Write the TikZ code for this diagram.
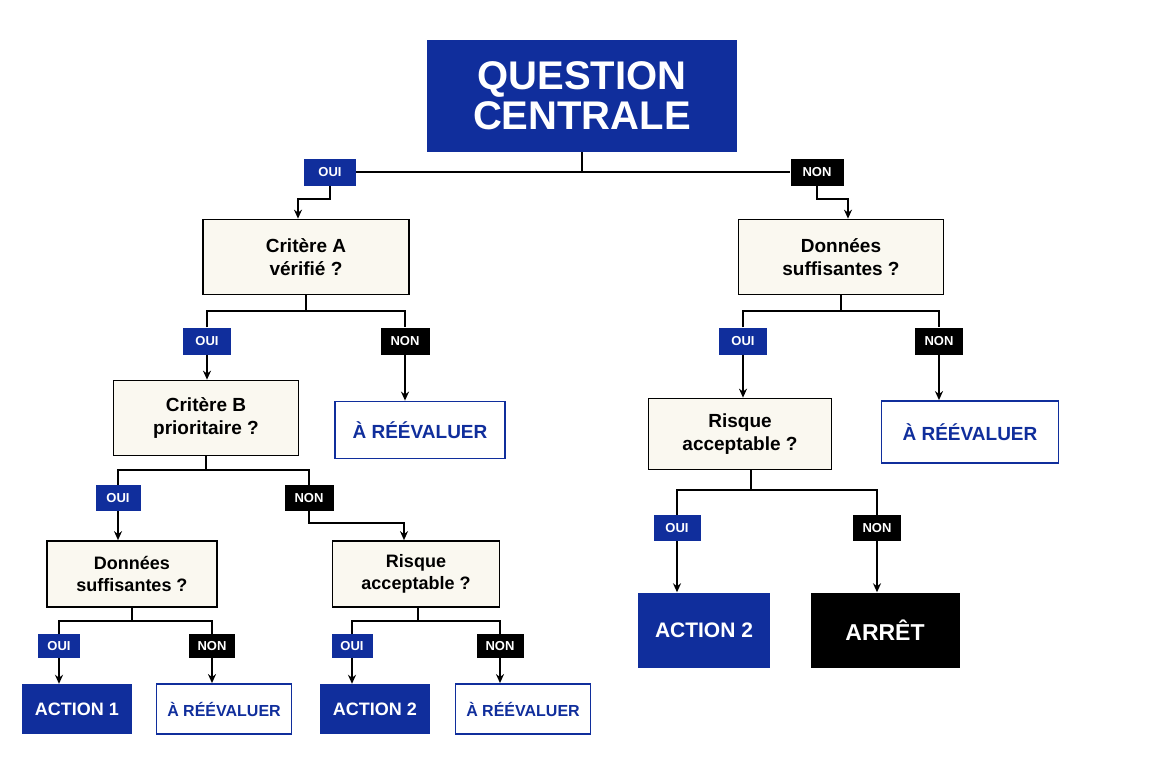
\documentclass[tikz,border=0pt]{standalone}
\usepackage{fontspec}
\setmainfont{Liberation Sans}
\usetikzlibrary{arrows.meta}
\definecolor{blu}{RGB}{16,46,156}
\definecolor{cream}{RGB}{250,248,240}
\begin{document}
\begin{tikzpicture}[x=1pt,y=-1pt,
  every node/.style={font=\bfseries, align=center, inner sep=0pt},
  q/.style={rectangle, fill=blu, text=white, font=\fontsize{40}{40}\bfseries},
  dec/.style={rectangle, draw=black, line width=1.7pt, fill=cream, font=\fontsize{19}{23}\bfseries},
  ree/.style={rectangle, draw=blu, line width=1.8pt, fill=white, text=blu},
  act/.style={rectangle, fill=blu, text=white},
  stop/.style={rectangle, fill=black, text=white},
  oui/.style={rectangle, fill=blu, text=white, font=\fontsize{13}{13}\bfseries},
  non/.style={rectangle, fill=black, text=white, font=\fontsize{13}{13}\bfseries},
  ln/.style={line width=1.6pt},
  arr/.style={line width=1.6pt, -{Stealth[length=9pt,width=8pt]}}]
\useasboundingbox (0,0) rectangle (1152,768);
% nodes
\node[q, minimum width=310, minimum height=112] (q) at (582,96) {QUESTION\\CENTRALE};
\node[oui, minimum width=52, minimum height=27] (o0) at (330,172) {OUI};
\node[non, minimum width=53, minimum height=27] (n0) at (817,172) {NON};
\node[dec, minimum width=206, minimum height=75] (ca) at (306,257) {Critère A\\vérifié ?};
\node[dec, minimum width=205, minimum height=75] (dr) at (841,257) {Données\\suffisantes ?};
\node[oui, minimum width=48, minimum height=27] (oa) at (207,341) {OUI};
\node[non, minimum width=49, minimum height=27] (na) at (405,341) {NON};
\node[oui, minimum width=48, minimum height=27] (od) at (743,341) {OUI};
\node[non, minimum width=48, minimum height=27] (nd) at (939,341) {NON};
\node[dec, minimum width=185, minimum height=75] (cb) at (206,418) {Critère B\\prioritaire ?};
\node[ree, minimum width=170, minimum height=57, font=\fontsize{19}{19}\bfseries] (r1) at (420,430) {À RÉÉVALUER};
\node[dec, minimum width=183, minimum height=71] (rr) at (740,434) {Risque\\acceptable ?};
\node[ree, minimum width=177, minimum height=62, font=\fontsize{19}{19}\bfseries] (r2) at (970,432) {À RÉÉVALUER};
\node[oui, minimum width=47, minimum height=26] (orr) at (677,528) {OUI};
\node[non, minimum width=48, minimum height=26] (nrr) at (877,528) {NON};
\node[act, minimum width=132, minimum height=75, font=\fontsize{21}{21}\bfseries] (a2r) at (704,630) {ACTION 2};
\node[stop, minimum width=149, minimum height=75, font=\fontsize{23}{23}\bfseries] (st) at (885,630) {ARRÊT};
\node[oui, minimum width=45, minimum height=26] (ob) at (118,498) {OUI};
\node[non, minimum width=49, minimum height=26] (nb) at (309,498) {NON};
\node[dec, minimum width=170, minimum height=66, font=\fontsize{18}{22}\bfseries] (dl) at (132,574) {Données\\suffisantes ?};
\node[dec, minimum width=167, minimum height=66, font=\fontsize{18}{22}\bfseries] (rl) at (416,574) {Risque\\acceptable ?};
\node[oui, minimum width=42, minimum height=24] (o1) at (59,646) {OUI};
\node[non, minimum width=46, minimum height=24] (n1) at (212,646) {NON};
\node[oui, minimum width=41, minimum height=24] (o2) at (352,646) {OUI};
\node[non, minimum width=47, minimum height=24] (n2) at (500,646) {NON};
\node[act, minimum width=110, minimum height=50, font=\fontsize{18}{18}\bfseries] (a1) at (77,709) {ACTION 1};
\node[ree, minimum width=135, minimum height=50, font=\fontsize{16}{16}\bfseries] (r3) at (224,709) {À RÉÉVALUER};
\node[act, minimum width=110, minimum height=50, font=\fontsize{18}{18}\bfseries] (a2l) at (375,709) {ACTION 2};
\node[ree, minimum width=135, minimum height=50, font=\fontsize{16}{16}\bfseries] (r4) at (523,709) {À RÉÉVALUER};
% junctions
\coordinate (j0) at (582,172);
\coordinate (k0) at (298,199);
\coordinate (k1) at (848,199);
\coordinate (ja) at (306,311);
\coordinate (jd) at (841,311);
\coordinate (jr) at (751,490);
\coordinate (jb) at (206,470);
\coordinate (kb) at (404,523);
\coordinate (jl) at (132,621);
\coordinate (jm) at (418,621);
% connectors
\draw[ln] (q.south) -- (j0);
\draw[ln] (o0.east) -- (n0.west);
\draw[arr] (o0.south) |- (k0) -- (k0 |- ca.north);
\draw[arr] (n0.south) |- (k1) -- (k1 |- dr.north);
\draw[ln] (ca.south) -- (ja);
\draw[ln] (oa.north) |- (ja) -| (na.north);
\draw[arr] (oa.south) -- (oa.south |- cb.north);
\draw[arr] (na.south) -- (na.south |- r1.north);
\draw[ln] (dr.south) -- (jd);
\draw[ln] (od.north) |- (jd) -| (nd.north);
\draw[arr] (od.south) -- (od.south |- rr.north);
\draw[arr] (nd.south) -- (nd.south |- r2.north);
\draw[ln] (rr.south -| jr) -- (jr);
\draw[ln] (orr.north) |- (jr) -| (nrr.north);
\draw[arr] (orr.south) -- (orr.south |- a2r.north);
\draw[arr] (nrr.south) -- (nrr.south |- st.north);
\draw[ln] (cb.south) -- (jb);
\draw[ln] (ob.north) |- (jb) -| (nb.north);
\draw[arr] (ob.south) -- (ob.south |- dl.north);
\draw[arr] (nb.south) |- (kb) -- (kb |- rl.north);
\draw[ln] (dl.south) -- (jl);
\draw[ln] (o1.north) |- (jl) -| (n1.north);
\draw[arr] (o1.south) -- (o1.south |- a1.north);
\draw[arr] (n1.south) -- (n1.south |- r3.north);
\draw[ln] (rl.south -| jm) -- (jm);
\draw[ln] (o2.north) |- (jm) -| (n2.north);
\draw[arr] (o2.south) -- (o2.south |- a2l.north);
\draw[arr] (n2.south) -- (n2.south |- r4.north);
\end{tikzpicture}
\end{document}
